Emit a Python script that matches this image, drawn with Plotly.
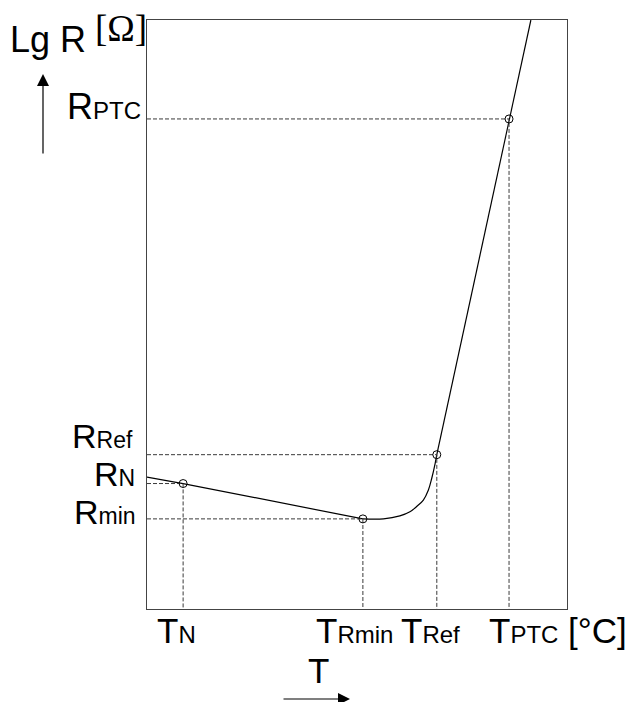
import plotly.graph_objects as go

# ---- data (T in % of axis, lg R in % of axis) ----
T_left = [0, 8.6, 51.4]
R_left = [22.4, 21.3, 15.3]
T_knee = [51.4, 56.3, 60.2, 62.6, 64.2, 65.8, 67.0, 67.8, 68.6, 69.0]
R_knee = [15.3, 15.3, 15.8, 16.5, 17.4, 18.5, 20.2, 22.2, 24.7, 26.2]
T_steep = [69.0, 86.2, 91.4]
R_steep = [26.2, 83.2, 100.0]
T_pts = [8.6, 51.4, 69.0, 86.2]
R_pts = [21.3, 15.3, 26.2, 83.2]
R_names = ["N", "min", "Ref", "PTC"]
T_names = ["N", "Rmin", "Ref", "PTC"]

FONT = "Arial, Liberation Sans, sans-serif"
L, R_, T_, B = 147, 61, 20, 93
W, H = 628, 702
PW, PH = W - L - R_, H - T_ - B

def px2x(px):
    return (px - L) / PW

def px2y(py):
    return (H - B - py) / PH

fig = go.Figure()
line = dict(color="black", width=1.2)
fig.add_trace(go.Scatter(x=T_left, y=R_left, mode="lines", line=line))
fig.add_trace(go.Scatter(x=T_knee, y=R_knee, mode="lines",
                         line=dict(color="black", width=1.2, shape="spline", smoothing=1.0)))
fig.add_trace(go.Scatter(x=T_steep, y=R_steep, mode="lines", line=line))

# dashed guides
for tx, ry in zip(T_pts, R_pts):
    fig.add_trace(go.Scatter(x=[0, tx, tx], y=[ry, ry, 0], mode="lines",
                             line=dict(color="#3a3a3a", width=1, dash="4px,2px")))

fig.add_trace(go.Scatter(x=T_pts, y=R_pts, mode="markers",
                         marker=dict(symbol="circle-open", size=8, color="black",
                                     line=dict(width=1, color="black"))))

ann = []
def lab(big, small, x, y, xanchor, bs, ss, extra=""):
    ann.append(dict(x=x, y=y, xref="paper", yref="paper", xanchor=xanchor, yanchor="middle",
                    text=f"{big}<span style='font-size:{ss}px'>{small}</span>{extra}",
                    showarrow=False, font=dict(family=FONT, size=bs, color="black")))

# y labels (right edge px, cap-center px, sizes)
ylab_pos = {"PTC": (143, 106, 36, 24), "Ref": (135, 436, 34, 23),
            "N": (137, 474, 34, 23), "min": (138, 512, 34, 23)}
for n in R_names:
    rx, cy, bs, ss = ylab_pos[n]
    lab("R", n, px2x(rx), px2y(cy), "right", bs, ss)

# x labels (left edge px)
xlab_pos = {"N": 155, "Rmin": 314, "Ref": 399, "PTC": 487}
for n in T_names:
    extra = " [°C]" if n == "PTC" else ""
    lab("T", n, px2x(xlab_pos[n]), px2y(630), "left", 35, 24, extra)

ann.append(dict(x=px2x(8), y=px2y(40), xref="paper", yref="paper", xanchor="left",
                yanchor="middle", text="Lg R", showarrow=False,
                font=dict(family=FONT, size=36, color="black")))
ann.append(dict(x=px2x(121), y=px2y(28), xref="paper", yref="paper", xanchor="center",
                yanchor="middle", text="[Ω]", showarrow=False,
                font=dict(family="Liberation Serif, Times New Roman, serif", size=37, color="black")))
ann.append(dict(x=px2x(318), y=px2y(670), xref="paper", yref="paper", xanchor="center",
                yanchor="middle", text="T", showarrow=False,
                font=dict(family=FONT, size=35, color="black")))
# arrows
ann.append(dict(x=px2x(43), y=px2y(74), xref="paper", yref="paper", text="",
                showarrow=True, ax=0, ay=81, arrowhead=2, arrowsize=2, arrowwidth=1.2,
                arrowcolor="black"))
ann.append(dict(x=px2x(350), y=px2y(699), xref="paper", yref="paper", text="",
                showarrow=True, ax=-68, ay=0, arrowhead=2, arrowsize=2, arrowwidth=1.2,
                arrowcolor="black"))

axis = dict(range=[0, 100], showgrid=False, zeroline=False, showticklabels=False,
            ticks="", showline=True, mirror=True, linecolor="#444444", linewidth=1.3,
            fixedrange=True)
fig.update_layout(width=W, height=H, margin=dict(l=L, r=R_, t=T_, b=B),
                  paper_bgcolor="white", plot_bgcolor="white", showlegend=False,
                  xaxis=axis, yaxis=axis, annotations=ann)
fig.write_html("out.html", config={"displayModeBar": False},
               post_script="document.body.style.margin='0';document.body.style.overflow='hidden';")
